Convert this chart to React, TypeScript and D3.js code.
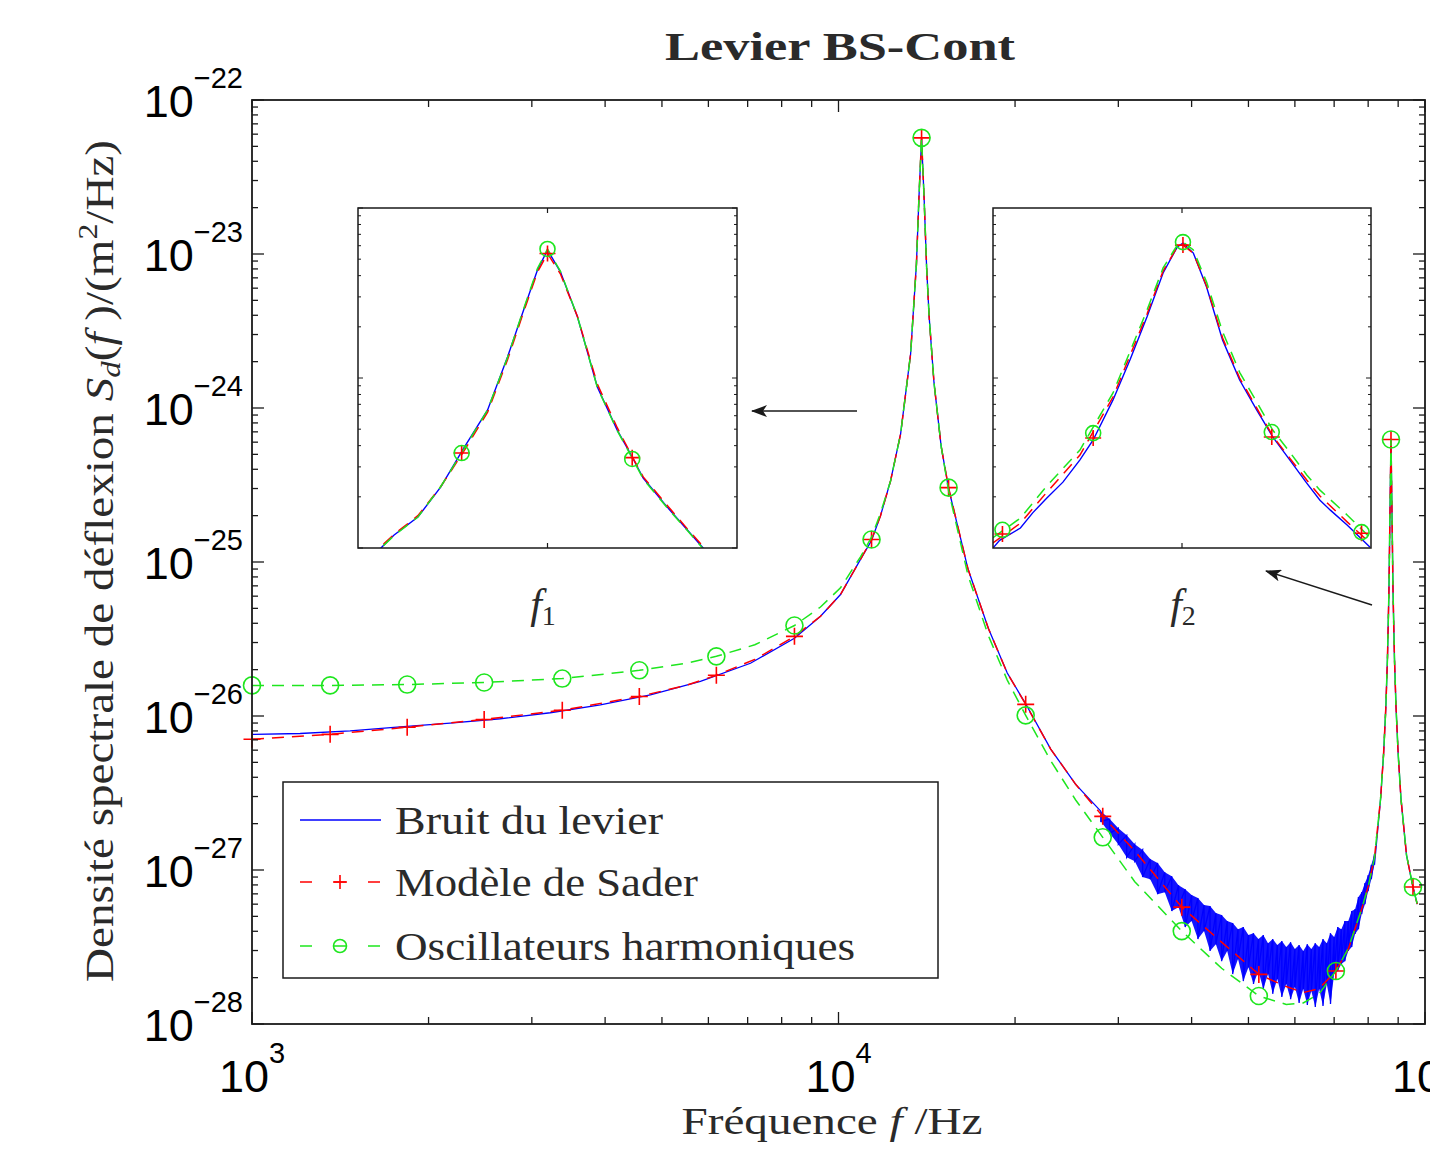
import React from "react";
import * as d3 from "d3";

// ---------- axis ticks ----------
const xMajorTicks = [1e3, 1e4, 1e5];
const xMajorExp = ["3", "4", "5"];
const yMajorTicks = [1e-22, 1e-23, 1e-24, 1e-25, 1e-26, 1e-27, 1e-28];
const yMajorExp = ["\u221222", "\u221223", "\u221224", "\u221225", "\u221226", "\u221227", "\u221228"];

// ---------- measured noise (Bruit du levier) ----------
const blueLowFreq = [1000, 1208, 1470, 1789, 2177, 2650, 3225, 3926, 4778, 5815, 7077, 8412, 9318, 10079, 10902, 11385, 11794, 12267, 12760, 13272, 13579, 13717, 13856, 13995, 14133, 14272, 14549, 14964, 15406, 16627, 18013, 19398, 20852, 23005, 25373];
const blueLowPsd = [7.6e-27, 7.7e-27, 8.0e-27, 8.5e-27, 9.0e-27, 9.6e-27, 1.05e-26, 1.18e-26, 1.37e-26, 1.68e-26, 2.2e-26, 3.2e-26, 4.44e-26, 6.15e-26, 1.04e-25, 1.38e-25, 2.0e-25, 3.36e-25, 6.77e-25, 2.24e-24, 8.6e-24, 2.37e-23, 5.6e-23, 2.3e-23, 8.2e-24, 3.95e-24, 1.46e-24, 5.64e-25, 3.0e-25, 9.0e-26, 3.7e-26, 1.9e-26, 1.2e-26, 6.1e-27, 3.6e-27];

const noiseFreq = [28000, 29000, 30000, 31000, 32000, 33000, 34000, 35000, 36000, 37000, 38000, 39000, 40000, 41000, 42000, 43000, 44000, 45000, 46000, 47000, 48000, 49000, 50000, 51000, 52000, 53000, 54000, 55000, 56000, 57000, 58000, 59000, 60000, 61000, 62000, 63000, 64000, 65000, 66000, 67000, 68000, 69000, 70000, 71000, 72000, 73000, 74000, 75000, 76000, 77000, 78000, 79000, 80000, 81000, 82000];
const noiseUpper = [2.41e-27, 2.14e-27, 1.87e-27, 1.68e-27, 1.47e-27, 1.35e-27, 1.18e-27, 1.11e-27, 9.68e-28, 9.12e-28, 7.97e-28, 7.51e-28, 6.87e-28, 6.57e-28, 5.92e-28, 5.83e-28, 5.25e-28, 5.10e-28, 4.66e-28, 4.52e-28, 4.13e-28, 4.26e-28, 3.78e-28, 3.89e-28, 3.56e-28, 3.78e-28, 3.35e-28, 3.56e-28, 3.26e-28, 3.46e-28, 3.16e-28, 3.40e-28, 3.07e-28, 3.26e-28, 2.98e-28, 3.30e-28, 3.07e-28, 3.35e-28, 3.16e-28, 3.56e-28, 3.35e-28, 3.89e-28, 3.67e-28, 4.26e-28, 4.13e-28, 4.66e-28, 4.66e-28, 5.41e-28, 5.57e-28, 6.67e-28, 7.18e-28, 8.22e-28, 9.26e-28, 1.08e-27, 1.27e-27];
const noiseLower = [2.07e-27, 1.73e-27, 1.47e-27, 1.21e-27, 1.14e-27, 8.99e-28, 8.72e-28, 6.97e-28, 7.18e-28, 5.41e-28, 5.74e-28, 4.26e-28, 4.66e-28, 3.56e-28, 4.01e-28, 2.98e-28, 3.30e-28, 2.56e-28, 2.98e-28, 2.11e-28, 2.64e-28, 1.90e-28, 2.34e-28, 1.82e-28, 2.21e-28, 1.69e-28, 2.11e-28, 1.57e-28, 1.96e-28, 1.50e-28, 1.82e-28, 1.45e-28, 1.74e-28, 1.37e-28, 1.69e-28, 1.33e-28, 1.64e-28, 1.29e-28, 1.69e-28, 1.31e-28, 1.82e-28, 1.35e-28, 2.11e-28, 2.21e-28, 2.45e-28, 2.56e-28, 2.98e-28, 3.16e-28, 3.84e-28, 4.13e-28, 5.17e-28, 6.00e-28, 7.29e-28, 8.72e-28, 1.08e-27];

const blueHighFreq = [84000, 85000, 85750, 86300, 86800, 87200, 87500, 87800, 88200, 88700, 89250, 90000, 91000, 93000, 95390, 97000];
const blueHighPsd = [2.9e-27, 5.7e-27, 1.14e-26, 2.38e-26, 6.5e-26, 2.42e-25, 6.24e-25, 2.42e-25, 6.5e-26, 2.38e-26, 1.14e-26, 5.7e-27, 2.9e-27, 1.25e-27, 7.75e-28, 6.0e-28];

// ---------- models ----------
const modelFreq = [1000, 1359, 1839, 2488, 3381, 4575, 5500, 6191, 7200, 8412, 9318, 10079, 10902, 11385, 11794, 12267, 12760, 13272, 13579, 13717, 13856, 13995, 14133, 14272, 14549, 14964, 15406, 16627, 18013, 19398, 20852, 23005, 25373, 28219, 32000, 38483, 45000, 52082, 58000, 62000, 66000, 70479, 74000, 78000, 80000, 82000, 84000, 85000, 85750, 86300, 86800, 87200, 87500, 87800, 88200, 88700, 89250, 90000, 91000, 93000, 95390, 97000];
const saderPsd = [7.06e-27, 7.6e-27, 8.45e-27, 9.5e-27, 1.09e-26, 1.34e-26, 1.58e-26, 1.84e-26, 2.33e-26, 3.29e-26, 4.44e-26, 6.15e-26, 1.04e-25, 1.40e-25, 2.0e-25, 3.36e-25, 6.77e-25, 2.24e-24, 8.6e-24, 2.37e-23, 5.68e-23, 2.3e-23, 8.2e-24, 3.95e-24, 1.46e-24, 5.64e-25, 3.04e-25, 9.0e-26, 3.7e-26, 1.9e-26, 1.19e-26, 6.1e-27, 3.6e-27, 2.23e-27, 1.33e-27, 5.74e-28, 3.4e-28, 2.1e-28, 1.75e-28, 1.6e-28, 1.7e-28, 2.21e-28, 3.07e-28, 5.6e-28, 7.8e-28, 1.2e-27, 2.9e-27, 5.7e-27, 1.14e-26, 2.38e-26, 6.5e-26, 2.42e-25, 6.24e-25, 2.42e-25, 6.5e-26, 2.38e-26, 1.14e-26, 5.7e-27, 2.9e-27, 1.25e-27, 7.75e-28, 6.0e-28];
const hoPsd = [1.58e-26, 1.58e-26, 1.60e-26, 1.65e-26, 1.75e-26, 1.98e-26, 2.2e-26, 2.44e-26, 2.9e-26, 3.87e-26, 5.1e-26, 6.8e-26, 1.08e-25, 1.45e-25, 2.08e-25, 3.36e-25, 6.77e-25, 2.24e-24, 8.6e-24, 2.37e-23, 5.68e-23, 2.3e-23, 8.2e-24, 3.95e-24, 1.46e-24, 5.64e-25, 2.9e-25, 8.2e-26, 3.32e-26, 1.71e-26, 1.01e-26, 5.12e-27, 2.85e-27, 1.63e-27, 8.4e-28, 4.01e-28, 2.3e-28, 1.52e-28, 1.34e-28, 1.37e-28, 1.57e-28, 2.21e-28, 3.1e-28, 5.6e-28, 7.8e-28, 1.2e-27, 2.9e-27, 5.7e-27, 1.14e-26, 2.38e-26, 6.5e-26, 2.42e-25, 6.24e-25, 2.42e-25, 6.5e-26, 2.38e-26, 1.14e-26, 5.7e-27, 2.9e-27, 1.25e-27, 7.75e-28, 6.0e-28];

const markFreq = [1000, 1359, 1839, 2488, 3381, 4575, 6191, 8412, 11385, 13856, 15406, 20852, 28219, 38483, 52082, 70479, 87500, 95390];
const saderMarkPsd = [7.06e-27, 7.6e-27, 8.45e-27, 9.5e-27, 1.09e-26, 1.34e-26, 1.84e-26, 3.29e-26, 1.40e-25, 5.68e-23, 3.04e-25, 1.19e-26, 2.23e-27, 5.74e-28, 2.1e-28, 2.21e-28, 6.24e-25, 7.75e-28];
const hoMarkPsd = [1.58e-26, 1.58e-26, 1.60e-26, 1.65e-26, 1.75e-26, 1.98e-26, 2.44e-26, 3.87e-26, 1.40e-25, 5.68e-23, 3.04e-25, 1.01e-26, 1.63e-27, 4.01e-28, 1.52e-28, 2.21e-28, 6.24e-25, 7.75e-28];

// ---------- inset f1 ----------
const inset1Domain = [12856, 14856];
const inset1YDomain = [1e-24, 1e-22];
const inset1XTicks = [13856];
const inset1Freq = [12900, 12977, 13045, 13172, 13293, 13414, 13540, 13645, 13730, 13803, 13856, 13924, 14014, 14119, 14224, 14303, 14361, 14488, 14593, 14677, 14750];
const inset1Blue = [9.0e-25, 1.0e-24, 1.19e-24, 1.52e-24, 2.29e-24, 3.87e-24, 6.49e-24, 1.33e-23, 2.51e-23, 4.31e-23, 5.67e-23, 4.21e-23, 2.29e-23, 8.85e-24, 4.94e-24, 3.43e-24, 2.58e-24, 1.74e-24, 1.28e-24, 1.0e-24, 8.6e-25];
const inset1Sader = [9.2e-25, 1.02e-24, 1.2e-24, 1.55e-24, 2.3e-24, 3.7e-24, 6.3e-24, 1.28e-23, 2.45e-23, 4.2e-23, 5.4e-23, 4.1e-23, 2.3e-23, 9.2e-24, 5.1e-24, 3.45e-24, 2.62e-24, 1.78e-24, 1.3e-24, 1.02e-24, 8.8e-25];
const inset1Ho = [9.0e-25, 1.0e-24, 1.18e-24, 1.52e-24, 2.3e-24, 3.8e-24, 6.5e-24, 1.32e-23, 2.55e-23, 4.4e-23, 5.74e-23, 4.25e-23, 2.3e-23, 8.8e-24, 4.9e-24, 3.38e-24, 2.55e-24, 1.72e-24, 1.27e-24, 9.9e-25, 8.5e-25];
const inset1MarkFreq = [13403, 13856, 14303];
const inset1SaderMark = [3.62e-24, 5.4e-23, 3.4e-24];
const inset1HoMark = [3.62e-24, 5.74e-23, 3.34e-24];

// ---------- inset f2 ----------
const inset2Domain = [85500, 89500];
const inset2YDomain = [1e-26, 1e-24];
const inset2XTicks = [87500];
const inset2BlueFreq = [85500, 85570, 85790, 85920, 86070, 86240, 86420, 86560, 86770, 86950, 87130, 87300, 87450, 87510, 87620, 87760, 87930, 88110, 88290, 88460, 88640, 88820, 88960, 89070, 89250, 89490];
const inset2Blue = [1.0e-26, 1.11e-26, 1.31e-26, 1.61e-26, 1.97e-26, 2.44e-26, 3.30e-26, 4.32e-26, 7.43e-26, 1.28e-25, 2.29e-25, 4.15e-25, 5.90e-25, 6.22e-25, 5.43e-25, 3.43e-25, 1.67e-25, 9.73e-26, 6.49e-26, 4.50e-26, 3.30e-26, 2.41e-26, 1.91e-26, 1.67e-26, 1.36e-26, 1.01e-26];
const inset2ModelFreq = [85500, 85790, 86070, 86420, 86770, 87130, 87300, 87450, 87510, 87620, 87760, 87930, 88110, 88290, 88460, 88640, 88820, 88960, 89250, 89490];
const inset2Sader = [1.07e-26, 1.40e-26, 2.13e-26, 3.52e-26, 7.73e-26, 2.38e-25, 4.26e-25, 5.90e-25, 6.05e-25, 5.43e-25, 3.48e-25, 1.72e-25, 1.0e-25, 6.67e-26, 4.56e-26, 3.38e-26, 2.51e-26, 2.02e-26, 1.42e-26, 1.07e-26];
const inset2Ho = [1.15e-26, 1.50e-26, 2.32e-26, 3.77e-26, 8.17e-26, 2.51e-25, 4.44e-25, 6.05e-25, 6.31e-25, 5.66e-25, 3.67e-25, 1.87e-25, 1.08e-25, 7.23e-26, 4.94e-26, 3.67e-26, 2.69e-26, 2.19e-26, 1.56e-26, 1.15e-26];
const inset2MarkFreq = [85600, 86560, 87510, 88450, 89400];
const inset2SaderMark = [1.21e-26, 4.44e-26, 6.05e-25, 4.50e-26, 1.22e-26];
const inset2HoMark = [1.28e-26, 4.74e-26, 6.3e-25, 4.81e-26, 1.24e-26];

// ---------- legend ----------
const legendLabels = ["Bruit du levier", "Mod\u00e8le de Sader", "Oscillateurs harmoniques"];

const BLUE = "#0000ff";
const RED = "#ff0000";
const GREEN = "#1ee61e";
const INK = "#1a1a1a";
const TXT = "#2a2a2a";
const SERIF = "'Liberation Serif','DejaVu Serif',serif";
const SANS = "'Liberation Sans',Arial,Helvetica,sans-serif";
const DASH = "12 8";

type P = [number, number];
const zip = (f: number[], v: number[]): P[] => f.map((d, i) => [d, v[i]] as P);

function Plus({ cx, cy, s = 8.5, color = RED }: { cx: number; cy: number; s?: number; color?: string }) {
  return (
    <path d={`M${cx - s},${cy}H${cx + s}M${cx},${cy - s}V${cy + s}`} stroke={color} strokeWidth={1.6} fill="none" />
  );
}
function Ring({ cx, cy, r = 8.5, color = GREEN }: { cx: number; cy: number; r?: number; color?: string }) {
  return <circle cx={cx} cy={cy} r={r} stroke={color} strokeWidth={1.6} fill="none" />;
}

const isMajor = (t: number) => Math.abs(Math.log10(t) - Math.round(Math.log10(t))) < 1e-6;

function Inset(props: {
  id: string; x0: number; y0: number; w: number; h: number;
  xDomain: number[]; yDomain: number[]; xTicks: number[];
  blueF: number[]; blueV: number[]; modelF: number[]; sader: number[]; ho: number[];
  markF: number[]; saderMark: number[]; hoMark: number[];
}) {
  const { id, x0, y0, w, h } = props;
  const xs = d3.scaleLinear().domain(props.xDomain).range([x0, x0 + w]);
  const ys = d3.scaleLog().domain(props.yDomain).range([y0 + h, y0]);
  const line = d3.line<P>().x((d) => xs(d[0])).y((d) => ys(d[1]));
  const yt = ys.ticks();
  return (
    <g>
      <defs>
        <clipPath id={id}>
          <rect x={x0} y={y0} width={w} height={h} />
        </clipPath>
      </defs>
      <rect x={x0} y={y0} width={w} height={h} fill="#fff" />
      <g clipPath={`url(#${id})`}>
        <path d={line(zip(props.blueF, props.blueV)) || ""} stroke={BLUE} strokeWidth={1.4} fill="none" />
        <path d={line(zip(props.modelF, props.sader)) || ""} stroke={RED} strokeWidth={1.5} strokeDasharray={DASH} fill="none" />
        <path d={line(zip(props.modelF, props.ho)) || ""} stroke={GREEN} strokeWidth={1.5} strokeDasharray={DASH} fill="none" />
      </g>
      {props.markF.map((f, i) => (
        <Plus key={"p" + i} cx={xs(f)} cy={ys(props.saderMark[i])} s={8} />
      ))}
      {props.markF.map((f, i) => (
        <Ring key={"r" + i} cx={xs(f)} cy={ys(props.hoMark[i])} r={7.5} />
      ))}
      {props.xTicks.map((t) => (
        <g key={"xt" + t}>
          <line x1={xs(t)} x2={xs(t)} y1={y0} y2={y0 + 5} stroke={INK} strokeWidth={1.2} />
          <line x1={xs(t)} x2={xs(t)} y1={y0 + h} y2={y0 + h - 5} stroke={INK} strokeWidth={1.2} />
        </g>
      ))}
      {yt.map((t, i) => {
        const len = isMajor(t) ? 5 : 3;
        return (
          <g key={"yt" + i}>
            <line x1={x0} x2={x0 + len} y1={ys(t)} y2={ys(t)} stroke={INK} strokeWidth={1} />
            <line x1={x0 + w} x2={x0 + w - len} y1={ys(t)} y2={ys(t)} stroke={INK} strokeWidth={1} />
          </g>
        );
      })}
      <rect x={x0} y={y0} width={w} height={h} fill="none" stroke={INK} strokeWidth={1.5} />
    </g>
  );
}

export default function App() {
  const L = 252, R = 1425, T = 100, B = 1024;
  const x = d3.scaleLog().domain([1e3, 1e5]).range([L, R]);
  const y = d3.scaleLog().domain([1e-28, 1e-22]).range([B, T]);
  const line = d3.line<P>().x((d) => x(d[0])).y((d) => y(d[1]));
  const area = d3
    .area<number>()
    .x((i) => x(noiseFreq[i]))
    .y0((i) => y(noiseLower[i]))
    .y1((i) => y(noiseUpper[i]));

  const zig: P[] = noiseFreq.flatMap((f, i) => [[f, noiseUpper[i]] as P, [f, noiseLower[i]] as P]);
  const bluePts: P[] = [...zip(blueLowFreq, blueLowPsd), ...zig, ...zip(blueHighFreq, blueHighPsd)];

  const xt = x.ticks();
  const yt = y.ticks();

  const legendRows = [820, 882, 946];
  const legendWidths = [268, 303, 460];

  return (
    <svg
      width={1430}
      height={1157}
      style={{ position: "absolute", left: 0, top: 0, overflow: "hidden", background: "#fff" }}
      fontFamily={SERIF}
    >
      <defs>
        <clipPath id="plotClip">
          <rect x={L} y={T - 2} width={R - L} height={B - T + 2} />
        </clipPath>
        <marker id="arrowHead" viewBox="0 0 16 12" refX={15} refY={6} markerWidth={16} markerHeight={12} markerUnits="userSpaceOnUse" orient="auto">
          <path d="M16,6 L0,0 L4,6 L0,12 Z" fill={INK} />
        </marker>
      </defs>
      <rect x={0} y={0} width={1430} height={1157} fill="#fff" />

      {/* curves */}
      <g clipPath="url(#plotClip)">
        <path d={area(d3.range(noiseFreq.length)) || ""} fill={BLUE} fillOpacity={0.92} stroke="none" />
        <path d={line(bluePts) || ""} stroke={BLUE} strokeWidth={1.3} fill="none" strokeLinejoin="miter" />
        <path d={line(zip(modelFreq, saderPsd)) || ""} stroke={RED} strokeWidth={1.5} strokeDasharray={DASH} fill="none" />
      </g>
      {markFreq.map((f, i) => (
        <Plus key={"mp" + i} cx={x(f)} cy={y(saderMarkPsd[i])} />
      ))}
      <g clipPath="url(#plotClip)">
        <path d={line(zip(modelFreq, hoPsd)) || ""} stroke={GREEN} strokeWidth={1.5} strokeDasharray={DASH} fill="none" />
      </g>
      {markFreq.map((f, i) => (
        <Ring key={"mr" + i} cx={x(f)} cy={y(hoMarkPsd[i])} />
      ))}

      {/* axes box + ticks */}
      {xt.map((t, i) => {
        const len = isMajor(t) ? 12 : 7;
        return (
          <g key={"xt" + i}>
            <line x1={x(t)} x2={x(t)} y1={B} y2={B - len} stroke={INK} strokeWidth={1.3} />
            <line x1={x(t)} x2={x(t)} y1={T} y2={T + len} stroke={INK} strokeWidth={1.3} />
          </g>
        );
      })}
      {yt.map((t, i) => {
        const len = isMajor(t) ? 12 : 6;
        return (
          <g key={"yt" + i}>
            <line x1={L} x2={L + len} y1={y(t)} y2={y(t)} stroke={INK} strokeWidth={1.3} />
            <line x1={R} x2={R - len} y1={y(t)} y2={y(t)} stroke={INK} strokeWidth={1.3} />
          </g>
        );
      })}
      <rect x={L} y={T} width={R - L} height={B - T} fill="none" stroke={INK} strokeWidth={1.8} />

      {/* tick labels */}
      {xMajorTicks.map((t, i) => (
        <text key={"xl" + i} x={x(t)} y={1092} textAnchor="middle" fontFamily={SANS} fontSize={45} fill="#000">
          10
          <tspan fontSize={29} dy={-29}>
            {xMajorExp[i]}
          </tspan>
        </text>
      ))}
      {yMajorTicks.map((t, i) => (
        <text key={"yl" + i} x={243} y={y(t) + 17} textAnchor="end" fontFamily={SANS} fontSize={45} fill="#000">
          10
          <tspan fontSize={29} dy={-29}>
            {yMajorExp[i]}
          </tspan>
        </text>
      ))}

      {/* title & axis labels */}
      <text x={840} y={60} textAnchor="middle" fontWeight="bold" fontSize={40} fill={TXT} textLength={350} lengthAdjust="spacingAndGlyphs">
        Levier BS-Cont
      </text>
      <text x={832} y={1134} textAnchor="middle" fontSize={38} fill={TXT} textLength={301} lengthAdjust="spacingAndGlyphs">
        {"Fr\u00e9quence "}
        <tspan fontStyle="italic">f</tspan>
        {" /Hz"}
      </text>
      <text transform="translate(113,561) rotate(-90)" textAnchor="middle" fontSize={40} fill={TXT} textLength={842} lengthAdjust="spacingAndGlyphs">
        {"Densit\u00e9 spectrale de d\u00e9flexion "}
        <tspan fontStyle="italic">S</tspan>
        <tspan fontStyle="italic" fontSize={28} dy={7}>d</tspan>
        <tspan dy={-7}>(</tspan>
        <tspan fontStyle="italic">f</tspan>
        <tspan>{" )/(m"}</tspan>
        <tspan fontSize={27} dy={-16}>2</tspan>
        <tspan dy={16}>{"/Hz)"}</tspan>
      </text>

      {/* insets */}
      <Inset
        id="in1" x0={358} y0={208} w={379} h={340}
        xDomain={inset1Domain} yDomain={inset1YDomain} xTicks={inset1XTicks}
        blueF={inset1Freq} blueV={inset1Blue} modelF={inset1Freq} sader={inset1Sader} ho={inset1Ho}
        markF={inset1MarkFreq} saderMark={inset1SaderMark} hoMark={inset1HoMark}
      />
      <Inset
        id="in2" x0={993} y0={208} w={378} h={340}
        xDomain={inset2Domain} yDomain={inset2YDomain} xTicks={inset2XTicks}
        blueF={inset2BlueFreq} blueV={inset2Blue} modelF={inset2ModelFreq} sader={inset2Sader} ho={inset2Ho}
        markF={inset2MarkFreq} saderMark={inset2SaderMark} hoMark={inset2HoMark}
      />

      {/* f1 / f2 labels */}
      <text x={543} y={618} textAnchor="middle" fontSize={42} fill={TXT}>
        <tspan fontStyle="italic">f</tspan>
        <tspan fontSize={28} dy={7}>1</tspan>
      </text>
      <text x={1183} y={618} textAnchor="middle" fontSize={42} fill={TXT}>
        <tspan fontStyle="italic">f</tspan>
        <tspan fontSize={28} dy={7}>2</tspan>
      </text>

      {/* arrows */}
      <line x1={857} y1={411} x2={752} y2={411} stroke={INK} strokeWidth={1.5} markerEnd="url(#arrowHead)" />
      <line x1={1372} y1={605} x2={1266} y2={571} stroke={INK} strokeWidth={1.5} markerEnd="url(#arrowHead)" />

      {/* legend */}
      <rect x={283} y={782} width={655} height={196} fill="#fff" stroke={INK} strokeWidth={1.5} />
      <line x1={300} x2={381} y1={legendRows[0]} y2={legendRows[0]} stroke={BLUE} strokeWidth={1.5} />
      <line x1={300} x2={380} y1={legendRows[1]} y2={legendRows[1]} stroke={RED} strokeWidth={1.5} strokeDasharray="12 22" />
      <Plus cx={340} cy={legendRows[1]} s={7} />
      <line x1={300} x2={380} y1={legendRows[2]} y2={legendRows[2]} stroke={GREEN} strokeWidth={1.5} strokeDasharray="12 22" />
      <Ring cx={340} cy={legendRows[2]} r={6.5} />
      {legendLabels.map((s, i) => (
        <text key={"lg" + i} x={395} y={legendRows[i] + 14} fontSize={40} fill={TXT} textLength={legendWidths[i]} lengthAdjust="spacingAndGlyphs">
          {s}
        </text>
      ))}
    </svg>
  );
}
